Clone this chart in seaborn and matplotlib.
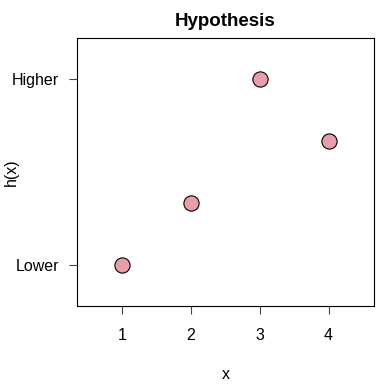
import matplotlib
matplotlib.use("Agg")
import matplotlib.pyplot as plt
import seaborn as sns
import pandas as pd

x_vals = [1, 2, 3, 4]
h_vals = [1, 2, 4, 3]
y_tick_pos = [1, 4]
y_tick_labels = ["Lower", "Higher"]
x_ticks = [1, 2, 3, 4]

sns.set_style("white")
plt.rcParams['font.family'] = ['Liberation Sans', 'DejaVu Sans']
plt.rcParams['text.color'] = 'black'
plt.rcParams['axes.labelcolor'] = 'black'
plt.rcParams['xtick.color'] = 'black'
plt.rcParams['ytick.color'] = 'black'

df = pd.DataFrame({"x": x_vals, "h": h_vals})
fig = plt.figure(figsize=(3.84, 3.84), dpi=100)
ax = fig.add_axes([77/384, 1 - 306/384, (374-77)/384, (306-38)/384])
sns.scatterplot(data=df, x="x", y="h", ax=ax, s=120, color="#E89DAA",
                edgecolor="black", linewidth=0.8, zorder=3)
ax.set_xlim(0.34, 4.66)
ax.set_ylim(0.34, 4.66)
for sp in ax.spines.values():
    sp.set_visible(True)
    sp.set_color("black")
    sp.set_linewidth(0.8)
ax.set_xticks(x_ticks)
ax.set_xticklabels([str(v) for v in x_ticks])
ax.set_yticks(y_tick_pos)
ax.set_yticklabels(y_tick_labels)
ax.tick_params(axis="both", direction="out", length=6, width=0.8, color="#444444",
               labelsize=11.5, bottom=True, left=True)
ax.tick_params(axis="x", pad=10)
ax.tick_params(axis="y", pad=7)
ax.set_xlabel("x", fontsize=11.5, labelpad=17)
ax.set_ylabel("h(x)", fontsize=11.5, va="center")
ax.yaxis.set_label_coords(-(77 - 11) / 297, 0.5)
ax.set_title("Hypothesis", fontsize=13.5, fontweight="bold", pad=9)
fig.savefig("out.png", dpi=100)
